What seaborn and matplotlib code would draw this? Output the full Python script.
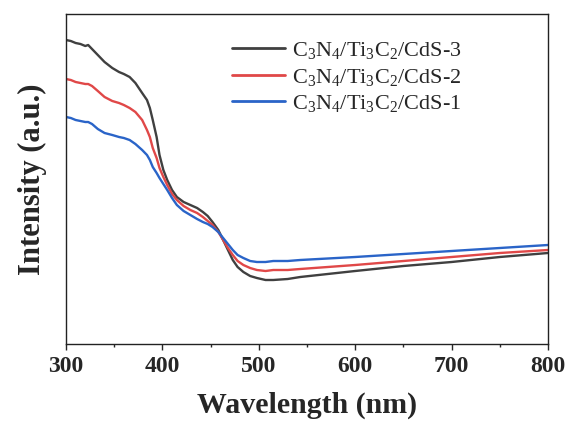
import numpy as np
import pandas as pd
import seaborn as sns
import matplotlib.pyplot as plt

# Values (intensity in arbitrary units)
wavelength = [300, 305, 310, 315, 320, 323, 327, 333, 340, 348, 355, 360, 366, 372, 379, 384,
              387, 390, 394, 397, 401, 405, 410, 415, 422, 429, 436, 442, 447, 452, 458, 463,
              468, 473, 478, 484, 491, 498, 507, 515, 530, 543, 600, 650, 700, 750, 800]
cds3 = [304, 303, 301, 300, 298, 299, 295, 289, 282, 276, 272, 270, 267, 261, 251, 244,
        236, 224, 207, 189, 174, 164, 154, 147, 142, 139, 136, 132, 128, 122, 114, 104,
        94, 84, 77, 72, 68, 66, 64, 64, 65, 67, 73, 78, 82, 87, 91]
cds2 = [265, 264, 262, 261, 260, 260, 258, 253, 247, 243, 241, 239, 236, 232, 224, 214,
        207, 196, 186, 176, 167, 159, 150, 144, 138, 134, 131, 127, 123, 119, 112, 104,
        96, 89, 83, 79, 76, 74, 73, 74, 74, 75, 79, 83, 87, 91, 94]
cds1 = [227, 226, 224, 223, 222, 222, 220, 215, 211, 209, 207, 206, 204, 200, 194, 189,
        184, 177, 171, 166, 160, 154, 146, 139, 133, 129, 125, 122, 120, 117, 112, 106,
        100, 94, 89, 86, 83, 82, 82, 83, 83, 84, 87, 90, 93, 96, 99]
labels = [r'$\mathregular{C_3N_4/Ti_3C_2/CdS}$-3',
          r'$\mathregular{C_3N_4/Ti_3C_2/CdS}$-2',
          r'$\mathregular{C_3N_4/Ti_3C_2/CdS}$-1']
colors = ['#404040', '#e04848', '#2a64c8']

n = len(wavelength)
df = pd.DataFrame({
    'wavelength': wavelength * 3,
    'intensity': cds3 + cds2 + cds1,
    'sample': [labels[0]] * n + [labels[1]] * n + [labels[2]] * n,
})

sns.set_style('ticks')
plt.rcParams['font.family'] = ['Liberation Serif', 'DejaVu Serif']
plt.rcParams['mathtext.fontset'] = 'custom'
plt.rcParams['mathtext.rm'] = 'Liberation Serif'

fig = plt.figure(figsize=(5.73, 4.28), dpi=100)
ax = fig.add_axes([66 / 573, 84 / 428, 482 / 573, 330 / 428])

sns.lineplot(data=df, x='wavelength', y='intensity', hue='sample', hue_order=labels,
             palette=colors, linewidth=1.7, ax=ax, sort=False)

ax.set_xlim(300, 800)
ax.set_ylim(0, 330)
ax.set_xticks([300, 400, 500, 600, 700, 800])
ax.set_xticks([350, 450, 550, 650, 750], minor=True)
ax.set_yticks([])
ax.tick_params(axis='x', which='major', length=4.5, width=1, direction='out', labelsize=17, pad=4)
ax.tick_params(axis='x', which='minor', length=2.5, width=1, direction='out')
for lab in ax.get_xticklabels():
    lab.set_fontweight('bold')
for s in ax.spines.values():
    s.set_visible(True)
    s.set_linewidth(1.0)
    s.set_color('#222222')

ax.set_xlabel('Wavelength (nm)', fontsize=21.5, fontweight='bold', labelpad=11)
ax.set_ylabel('Intensity (a.u.)', fontsize=22, fontweight='bold', labelpad=14)

leg = ax.legend(loc='upper left', bbox_to_anchor=((232 - 66) / 482, (344 - 40) / 330),
                borderaxespad=0, borderpad=0, frameon=False,
                fontsize=16, handlelength=2.4, handletextpad=0.3, labelspacing=0.25)
for line in leg.get_lines():
    line.set_linewidth(2)

fig.savefig('out.png', dpi=100)
